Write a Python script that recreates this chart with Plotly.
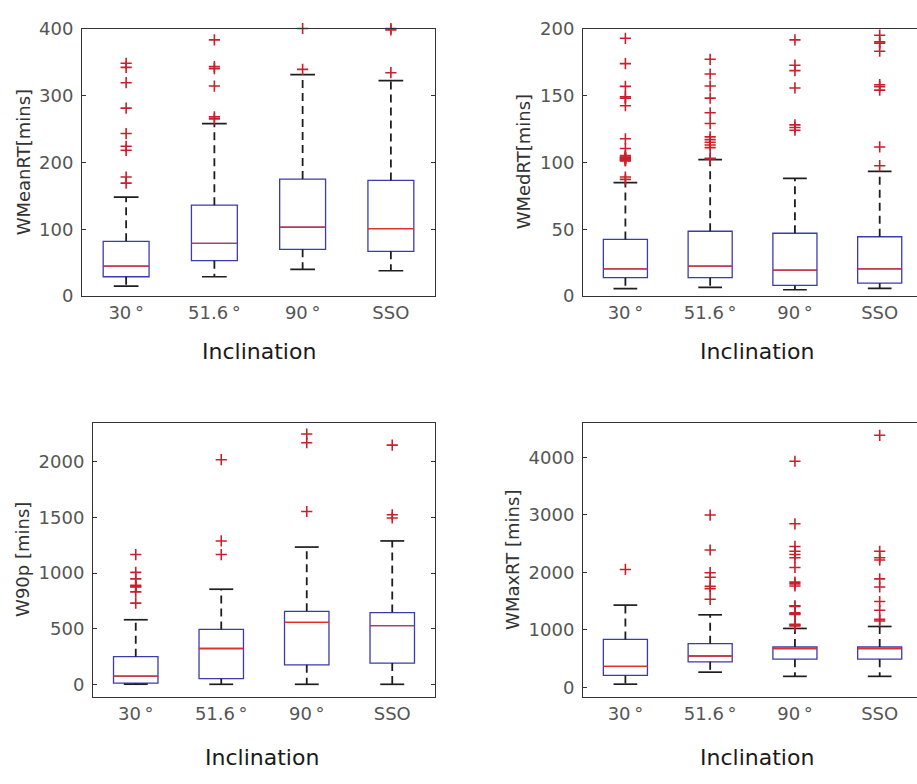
import plotly.graph_objects as go

# Orbit inclination groups shown on every panel
inclinations = ["30\u2009°", "51.6\u2009°", "90\u2009°", "SSO"]

# WMeanRT [mins]: box statistics and outliers per inclination
mean_q1 = [29, 53, 70, 67]
mean_med = [45, 79, 103, 101]
mean_q3 = [82, 136, 175, 173]
mean_lo = [15, 29, 40, 38]
mean_hi = [148, 258, 331, 322]
mean_out = [
    [348, 342, 319, 281, 243, 224, 218, 178, 169],
    [383, 343, 340, 314, 268, 265],
    [339, 400],
    [334, 398, 400],
]

# WMedRT [mins]
med_q1 = [13.8, 13.8, 8.0, 9.7]
med_med = [20.4, 22.5, 19.4, 20.4]
med_q3 = [42.4, 48.5, 47.0, 44.4]
med_lo = [5.6, 6.5, 4.8, 5.8]
med_hi = [84.8, 102.0, 88.0, 93.3]
med_out = [
    [192.7, 173.8, 156.8, 149, 148, 142.3, 117.6, 110.3,
     105, 104, 103.5, 103, 102.5, 102, 101.5, 101, 89, 87.3],
    [177, 166, 157, 148, 137, 129, 119, 117, 115, 113, 111, 103, 102.5],
    [191.5, 172.6, 168.5, 155.6, 128, 126, 124],
    [201, 195, 190, 189, 183, 158, 156.6, 154, 111.5, 97.5],
]

# W90p [mins]
p90_q1 = [12, 52, 177, 192]
p90_med = [76, 323, 558, 529]
p90_q3 = [250, 494, 657, 645]
p90_lo = [3, 2, 2, 2]
p90_hi = [581, 855, 1233, 1288]
p90_out = [
    [1166, 1006, 948, 890, 880, 875, 831, 730],
    [2017, 1288, 1166],
    [2247, 2169, 1552],
    [2148, 1523, 1494],
]

# WMaxRT [mins]
max_q1 = [208, 445, 490, 490]
max_med = [366, 546, 676, 676]
max_q3 = [834, 761, 704, 704]
max_lo = [56, 265, 192, 192]
max_hi = [1431, 1262, 1025, 1059]
max_out = [
    [2051],
    [2997, 2389, 1994, 1915, 1758, 1718, 1532],
    [3932, 2845, 2451, 2366, 2310, 2254, 2085, 1831, 1800, 1763,
     1420, 1408, 1296, 1280, 1268, 1099, 1085, 1070],
    [4383, 2366, 2254, 2214, 1887, 1746, 1493, 1341, 1183, 1155],
]

W, H = 917, 784
FONT = "DejaVu Sans"
BOX_W = 0.52
CAP_W = 0.28

panels = [
    dict(ytitle="WMeanRT[mins]", q1=mean_q1, med=mean_med, q3=mean_q3,
         lo=mean_lo, hi=mean_hi, out=mean_out, yrange=[0, 400], dtick=100,
         px=(82, 435), py=(18, 293), xr=[-0.5, 3.5], ytx=23, xtx=259, xty=350),
    dict(ytitle="WMedRT[mins]", q1=med_q1, med=med_med, q3=med_q3,
         lo=med_lo, hi=med_hi, out=med_out, yrange=[0, 200], dtick=50,
         px=(583, 917), py=(18, 293), xr=[-0.5, 3.44], ytx=523, xtx=757, xty=350),
    dict(ytitle="W90p [mins]", q1=p90_q1, med=p90_med, q3=p90_q3,
         lo=p90_lo, hi=p90_hi, out=p90_out, yrange=[-113, 2349], dtick=500,
         px=(93, 435), py=(423, 705), xr=[-0.5, 3.5], ytx=23, xtx=262, xty=767),
    dict(ytitle="WMaxRT [mins]", q1=max_q1, med=max_med, q3=max_q3,
         lo=max_lo, hi=max_hi, out=max_out, yrange=[-169, 4603], dtick=1000,
         px=(583, 917), py=(423, 705), xr=[-0.5, 3.44], ytx=513, xtx=757, xty=767),
]

fig = go.Figure()
annotations = []
layout_axes = {}

for k, p in enumerate(panels, start=1):
    xa = "x" if k == 1 else f"x{k}"
    ya = "y" if k == 1 else f"y{k}"
    pos = list(range(len(inclinations)))

    # blue boxes (interquartile range)
    fig.add_trace(go.Box(
        x=pos, q1=p["q1"], median=p["med"], q3=p["q3"],
        lowerfence=p["q1"], upperfence=p["q3"],
        width=BOX_W, whiskerwidth=0, boxpoints=False,
        line=dict(color="#3b3bb0", width=1.3),
        fillcolor="rgba(0,0,0,0)", xaxis=xa, yaxis=ya,
        hoverinfo="skip", showlegend=False,
    ))

    # red median lines
    mx, my = [], []
    for i, m in enumerate(p["med"]):
        mx += [i - BOX_W / 2, i + BOX_W / 2, None]
        my += [m, m, None]
    fig.add_trace(go.Scatter(x=mx, y=my, mode="lines",
                             line=dict(color="#e0302c", width=1.3),
                             xaxis=xa, yaxis=ya, showlegend=False, hoverinfo="skip"))

    # dashed whiskers
    wx, wy = [], []
    for i in pos:
        wx += [i, i, None, i, i, None]
        wy += [p["q3"][i], p["hi"][i], None, p["q1"][i], p["lo"][i], None]
    fig.add_trace(go.Scatter(x=wx, y=wy, mode="lines",
                             line=dict(color="#1e1e1e", width=1.8, dash="8px,5px"),
                             xaxis=xa, yaxis=ya, showlegend=False, hoverinfo="skip"))

    # whisker caps
    cx, cy = [], []
    for i in pos:
        for v in (p["hi"][i], p["lo"][i]):
            cx += [i - CAP_W / 2, i + CAP_W / 2, None]
            cy += [v, v, None]
    fig.add_trace(go.Scatter(x=cx, y=cy, mode="lines",
                             line=dict(color="#1e1e1e", width=1.7),
                             xaxis=xa, yaxis=ya, showlegend=False, hoverinfo="skip"))

    # outliers
    ox, oy = [], []
    for i, vals in enumerate(p["out"]):
        ox += [i] * len(vals)
        oy += vals
    fig.add_trace(go.Scatter(x=ox, y=oy, mode="markers", cliponaxis=False,
                             marker=dict(symbol="cross-thin", size=8,
                                         line=dict(color="#c8202c", width=1.6)),
                             xaxis=xa, yaxis=ya, showlegend=False, hoverinfo="skip"))

    x0, x1 = p["px"]
    y0, y1 = p["py"]
    left_side = x1 < W
    key = "" if k == 1 else str(k)
    layout_axes[f"xaxis{key}"] = dict(
        domain=[x0 / W, x1 / W], anchor=ya, range=p["xr"],
        tickvals=pos, ticktext=inclinations, ticks="",
        showline=True, linecolor="#333333", linewidth=1, mirror=True,
        showgrid=False, zeroline=False,
        tickfont=dict(family=FONT, size=18, color="#555555"),
    )
    layout_axes[f"yaxis{key}"] = dict(
        domain=[1 - y1 / H, 1 - y0 / H], anchor=xa, range=p["yrange"],
        dtick=p["dtick"], tick0=0, ticks="inside", ticklen=4,
        tickcolor="#333333", ticklabelstandoff=4,
        showline=True, linecolor="#333333", linewidth=1,
        mirror="ticks" if left_side else False,
        showgrid=False, zeroline=False,
        tickfont=dict(family=FONT, size=18, color="#555555"),
    )

    annotations.append(dict(
        text=p["ytitle"], textangle=-90, xref="paper", yref="paper",
        x=p["ytx"] / W, y=1 - (y0 + y1) / 2 / H, showarrow=False,
        xanchor="center", yanchor="middle",
        font=dict(family=FONT, size=18, color="#333333"),
    ))
    annotations.append(dict(
        text="Inclination", xref="paper", yref="paper",
        x=p["xtx"] / W, y=1 - p["xty"] / H, showarrow=False,
        xanchor="center", yanchor="middle",
        font=dict(family=FONT, size=22, color="#1a1a1a"),
    ))

fig.update_layout(
    width=W, height=H,
    margin=dict(l=0, r=0, t=0, b=0),
    paper_bgcolor="white", plot_bgcolor="white",
    annotations=annotations,
    **layout_axes,
)

fig.write_html("out.html")
